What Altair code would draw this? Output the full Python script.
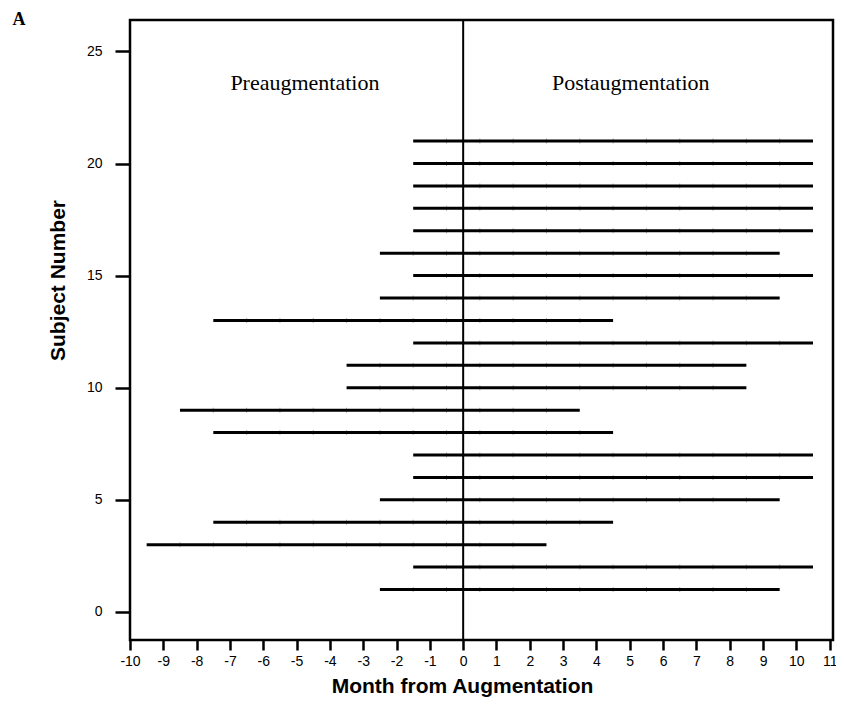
import altair as alt
import pandas as pd

# ---- data ----
subjects = list(range(1, 22))
starts = [-2.5, -1.5, -9.5, -7.5, -2.5, -1.5, -1.5, -7.5, -8.5, -3.5, -3.5,
          -1.5, -7.5, -2.5, -1.5, -2.5, -1.5, -1.5, -1.5, -1.5, -1.5]
ends = [9.5, 10.5, 2.5, 4.5, 9.5, 10.5, 10.5, 4.5, 3.5, 8.5, 8.5,
        10.5, 4.5, 9.5, 10.5, 9.5, 10.5, 10.5, 10.5, 10.5, 10.5]
x_ticks = list(range(-10, 12))
y_ticks = [0, 5, 10, 15, 20, 25]
zero_line = [0]
labels = ["Preaugmentation", "Postaugmentation"]
label_x = [-4.75, 5.03]
label_y = [23.26, 23.26]

W, H = 703, 620
XDOM = [-10, 11.1]
YDOM = [-1.25, 26.4]

df = pd.DataFrame({"subject": subjects, "start": starts, "end": ends})

# segment joints along each line (every month between start and end)
joints = []
for s, a, b in zip(subjects, starts, ends):
    k = a + 1
    while k < b:
        joints.append({"subject": s, "x": k})
        k += 1
jdf = pd.DataFrame(joints)

xscale = alt.Scale(domain=XDOM, nice=False, zero=False)
yscale = alt.Scale(domain=YDOM, nice=False, zero=False)

xaxis = alt.Axis(
    values=x_ticks, title="Month from Augmentation", grid=False, domain=False,
    tickColor="black", tickWidth=2.5, tickSize=10, labelPadding=4,
    labelFont="Liberation Sans", labelFontSize=14, labelColor="black",
    labelExpr="toString(datum.value)", labelFlush=False, labelOverlap=False,
    tickCount=22,
    titleFont="Liberation Sans", titleFontSize=21, titleFontWeight="bold",
    titleColor="black", titleX=332, titleY=52, titleBaseline="alphabetic",
    titleAlign="center",
)
yaxis = alt.Axis(
    values=y_ticks, title="Subject Number", grid=False, domain=False,
    tickColor="black", tickWidth=2.5, tickSize=15, labelPadding=13,
    labelFont="Liberation Sans", labelFontSize=14, labelColor="black",
    labelFlush=False, labelOverlap=False,
    titleFont="Liberation Sans", titleFontSize=21, titleFontWeight="bold",
    titleColor="black", titleX=-66, titleY=260, titleBaseline="alphabetic",
    titleAlign="center", titleAngle=-90,
)

X = lambda f: alt.X(f, scale=xscale, axis=xaxis)
Y = lambda f: alt.Y(f, scale=yscale, axis=yaxis)

joint_layer = alt.Chart(jdf).mark_tick(
    color="#8a8a8a", thickness=1, size=5, orient="vertical"
).encode(
    x=X("x:Q"),
    y=Y("subject:Q"),
)

lines = alt.Chart(df).mark_rule(color="black", strokeWidth=3).encode(
    x=X("start:Q"),
    x2="end:Q",
    y=Y("subject:Q"),
)

vline = alt.Chart(pd.DataFrame({"x": zero_line})).mark_rule(
    color="black", strokeWidth=2
).encode(
    x=X("x:Q"),
    y=alt.value(0),
    y2=alt.value(H),
)

text_layer = alt.Chart(
    pd.DataFrame({"t": labels, "x": label_x, "y": label_y})
).mark_text(
    font="Liberation Serif", fontSize=22, color="black",
    align="center", baseline="alphabetic"
).encode(
    x=X("x:Q"),
    y=Y("y:Q"),
    text="t:N",
)

panel = alt.Chart(pd.DataFrame({"t": ["A"]})).mark_text(
    font="Liberation Serif", fontSize=18, fontWeight="bold", color="black",
    align="center", baseline="alphabetic"
).encode(
    x=alt.value(-111),
    y=alt.value(5),
    text="t:N",
)

chart = alt.layer(joint_layer, lines, vline, text_layer, panel).properties(
    width=W, height=H,
    background="white",
    autosize=alt.AutoSizeParams(type="none"),
    padding={"left": 122, "top": 12, "right": 3, "bottom": 58},
).configure_view(
    stroke="black", strokeWidth=2.5
)

chart.save("out.html", embed_options={"renderer": "svg", "actions": False})
